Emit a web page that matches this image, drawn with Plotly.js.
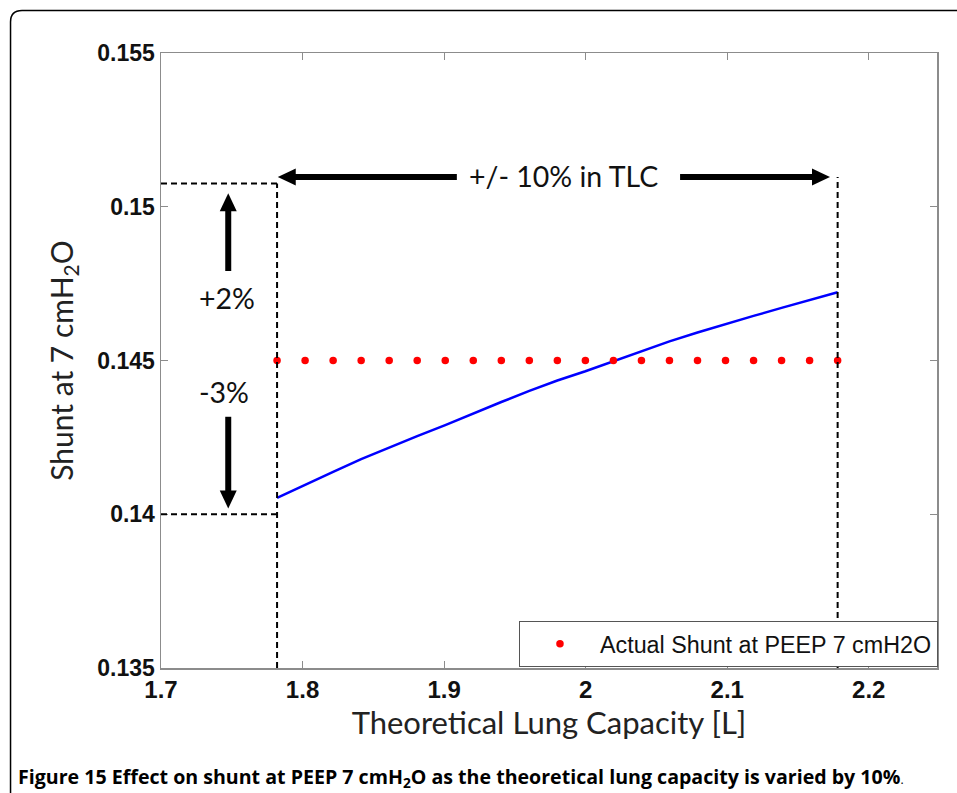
<!DOCTYPE html>
<html>
<head>
<meta charset="utf-8">
<script src="https://cdn.plot.ly/plotly-3.0.1.min.js"></script>
<style>
  html, body { margin: 0; padding: 0; background: #fff; }
  #chart { width: 957px; height: 793px; }
</style>
</head>
<body>
<div id="chart"></div>
<script>
// ---- data ----
const tlc = [1.782, 1.8018, 1.8216, 1.8414, 1.8612, 1.881, 1.9008, 1.9206, 1.9404, 1.9602, 1.98,
             1.9998, 2.0196, 2.0394, 2.0592, 2.079, 2.0988, 2.1186, 2.1384, 2.1582, 2.178];
const shuntModel = [0.14053, 0.14096, 0.14138, 0.14179, 0.14217, 0.14254, 0.14290, 0.14328, 0.14365, 0.14401, 0.14435,
                    0.14465, 0.14497, 0.14530, 0.14562, 0.14591, 0.14619, 0.14645, 0.14671, 0.14696, 0.14722];
const actualShunt = [0.145, 0.145, 0.145, 0.145, 0.145, 0.145, 0.145, 0.145, 0.145, 0.145, 0.145,
                     0.145, 0.145, 0.145, 0.145, 0.145, 0.145, 0.145, 0.145, 0.145, 0.145];
const legendName = 'Actual Shunt at PEEP 7 cmH2O';
const xTickVals = [1.7, 1.8, 1.9, 2.0, 2.1, 2.2];
const xTickText = ['1.7', '1.8', '1.9', '2', '2.1', '2.2'];
const yTickVals = [0.135, 0.14, 0.145, 0.15, 0.155];
const yTickText = ['0.135', '0.14', '0.145', '0.15', '0.155'];
// annotation guides (drawn by the authors on the figure)
const tlcBounds = [1.782, 2.178];
const shuntLow = 0.14;       // -3%
const shuntHigh = 0.15076;   // +2%
const tlcArrowY = 0.15097;
const pctArrowX = 1.7475;
const labelUp = '+2%';
const labelDown = '-3%';
const labelTLC = '+/- 10% in TLC';

const xRange = [1.7, 2.2482];
const yRange = [0.135, 0.155];
const M = { l: 161, r: 20, t: 53, b: 125 };
const W = 957, H = 793;
const pxX = (W - M.l - M.r) / (xRange[1] - xRange[0]);
const pxY = (H - M.t - M.b) / (yRange[1] - yRange[0]);

const calib = 'Lato, "Open Sans", sans-serif';
const arial = '"Liberation Sans", Arial, sans-serif';

const traces = [
  {
    x: tlc, y: shuntModel, type: 'scatter', mode: 'lines',
    line: { color: '#0000ff', width: 2.5 }, showlegend: false, hoverinfo: 'skip'
  },
  {
    x: tlc, y: actualShunt, type: 'scatter', mode: 'markers', name: legendName,
    marker: { color: '#ff0000', size: 7.5 }
  }
];

// thick black arrow (shaft + triangular head) from tail to tip, head sized in pixels
function arrowShapes(x0, y0, x1, y1) {
  const dx = (x1 - x0) * pxX, dy = (y1 - y0) * pxY;
  const L = Math.hypot(dx, dy), ux = dx / L, uy = dy / L;
  const nx = -uy, ny = ux;
  const hl = 18, hw = 8.5;
  const bx = -ux * hl, by = -uy * hl;
  const toX = p => x1 + p / pxX, toY = p => y1 + p / pxY;
  const shaftEnd = { x: toX(-ux * (hl - 2)), y: toY(-uy * (hl - 2)) };
  return [
    { type: 'line', xref: 'x', yref: 'y', x0: x0, y0: y0, x1: shaftEnd.x, y1: shaftEnd.y,
      line: { color: '#000', width: 6 } },
    { type: 'path', xref: 'x', yref: 'y', fillcolor: '#000', line: { width: 0 },
      path: 'M ' + x1 + ',' + y1 +
            ' L ' + toX(bx + nx * hw) + ',' + toY(by + ny * hw) +
            ' L ' + toX(bx - nx * hw) + ',' + toY(by - ny * hw) + ' Z' }
  ];
}

const dash = { color: '#000', width: 2, dash: '6px,4px' };
const shapes = [
  { type: 'line', xref: 'x', yref: 'y', x0: tlcBounds[0], x1: tlcBounds[0], y0: 0.135, y1: shuntHigh, line: dash },
  { type: 'line', xref: 'x', yref: 'y', x0: tlcBounds[1], x1: tlcBounds[1], y0: 0.135, y1: tlcArrowY, line: dash },
  { type: 'line', xref: 'x', yref: 'y', x0: 1.7, x1: tlcBounds[0], y0: shuntHigh, y1: shuntHigh, line: dash },
  { type: 'line', xref: 'x', yref: 'y', x0: 1.7, x1: tlcBounds[0], y0: shuntLow, y1: shuntLow, line: dash },
  // outer figure frame (rounded top-left corner)
  { type: 'path', xref: 'paper', yref: 'paper', layer: 'below',
    path: 'M -0.1939,-0.2033 L -0.1939,1.0504 Q -0.1939,1.0691 -0.1791,1.0691 L 1.03,1.0691',
    line: { color: '#000', width: 1.5 } }
].concat(
  arrowShapes(1.909, tlcArrowY, tlcBounds[0] + 0.0005, tlcArrowY),
  arrowShapes(2.0667, tlcArrowY, 2.1726, tlcArrowY),
  arrowShapes(pctArrowX, 0.14791, pctArrowX, 0.15044),
  arrowShapes(pctArrowX, 0.14317, pctArrowX, 0.140185)
);

const annotations = [
  { xref: 'x', yref: 'y', x: 1.9841, y: tlcArrowY, yshift: 1, text: labelTLC, showarrow: false,
    font: { family: calib, size: 28.5, color: '#111' } },
  { xref: 'x', yref: 'y', x: 1.7468, y: 0.14704, text: labelUp, showarrow: false,
    font: { family: calib, size: 28.5, color: '#111' } },
  { xref: 'x', yref: 'y', x: 1.7447, y: 0.14398, text: labelDown, showarrow: false,
    font: { family: calib, size: 28.5, color: '#111' } },
  { xref: 'paper', yref: 'paper', x: -0.1869, y: -0.1785, xanchor: 'left', yanchor: 'middle', showarrow: false,
    text: '<b>Figure 15</b> <b>Effect on shunt at PEEP 7 cmH<sub>2</sub>O as the theoretical lung capacity is varied by 10%</b><span style="font-size:12px">.</span>',
    font: { family: '"Open Sans", sans-serif', size: 19.6, color: '#000' } }
];

const layout = {
  width: W, height: H,
  margin: M,
  paper_bgcolor: '#fff', plot_bgcolor: '#fff',
  showlegend: true,
  xaxis: {
    range: xRange, tickvals: xTickVals, ticktext: xTickText,
    showgrid: false, zeroline: false,
    showline: true, linecolor: '#8c8c8c', linewidth: 1.5, mirror: 'ticks',
    ticks: 'inside', ticklen: 7, tickwidth: 1.2, tickcolor: '#8c8c8c',
    tickfont: { family: arial, size: 24, color: '#111', weight: 'bold' },
    title: { text: 'Theoretical Lung Capacity [L]', font: { family: calib, size: 31, color: '#222' }, standoff: 10 },
    automargin: false
  },
  yaxis: {
    range: yRange, tickvals: yTickVals, ticktext: yTickText,
    showgrid: false, zeroline: false,
    showline: true, linecolor: '#8c8c8c', linewidth: 1.5, mirror: 'ticks',
    ticks: 'inside', ticklen: 7, tickwidth: 1.2, tickcolor: '#8c8c8c',
    tickfont: { family: arial, size: 23, color: '#111', weight: 'bold' },
    title: { text: 'Shunt at 7 cmH<sub>2</sub>O', font: { family: calib, size: 30, color: '#222' }, standoff: 15 },
    automargin: false
  },
  legend: {
    x: 0.4613, y: 0.0764, xanchor: 'left', yanchor: 'top', xref: 'paper', yref: 'paper',
    bgcolor: '#fff', bordercolor: '#555', borderwidth: 1,
    font: { family: arial, size: 23.3, color: '#111' },
    itemwidth: 70
  },
  shapes: shapes,
  annotations: annotations
};

Plotly.newPlot('chart', traces, layout, { displayModeBar: false, staticPlot: true });
</script>
</body>
</html>
